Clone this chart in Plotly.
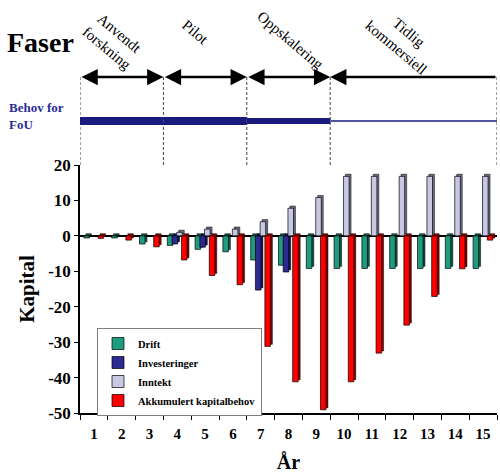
import plotly.graph_objects as go

# ---------------- data ----------------
years = list(range(1, 16))
year_labels = [str(y) for y in years]

drift = [-0.6, -0.6, -2.3, -2.7, -3.8, -4.5, -6.8, -8.3, -9.2, -9.2, -9.2, -9.2, -9.2, -9.2, -9.2]
investeringer = [0, 0, 0, -2.3, -3.2, 0, -15.3, -10.2, 0, 0, 0, 0, 0, 0, 0]
inntekt = [0, 0, 0, 1.0, 1.9, 1.9, 4.0, 7.8, 10.8, 16.8, 16.8, 16.8, 16.8, 16.8, 16.8]
akkumulert = [-0.7, -1.2, -3.1, -6.8, -11.2, -13.8, -31.2, -41.2, -49.1, -41.2, -33.1, -25.2, -17.1, -9.3, -1.2]

series_names = ["Drift", "Investeringer", "Inntekt", "Akkumulert kapitalbehov"]
series_values = [drift, investeringer, inntekt, akkumulert]

y_tickvals = [20, 10, 0, -10, -20, -30, -40, -50]
y_ticktext = ["20", "10", "0", "-10", "-20", "-30", "-40", "-50"]

phase_names = ["Anvendt<br>forskning", "Pilot", "Oppskalering", "Tidlig<br>kommersiell"]
phase_start = [1, 4, 7, 10]
phase_end = [3, 6, 9, 15]
fou_intensity = [8, 8, 6, 1.5]   # line thickness of "Behov for FoU"

# ---------------- styling ----------------
colors = ["#1F9C80", "#2A2A90", "#C8C8E2", "#FF0000"]
side_colors = ["#0E5A48", "#14144F", "#6E6E88", "#8A0000"]
offsets = [-0.36, -0.19, -0.02, 0.15]
bar_w = 0.2
depth_x = 0.07
depth_y = 0.6
SERIF = "Liberation Serif"

W, H = 500, 473
L, R, T, B = 80, 3, 165, 60
plot_h = H - T - B
plot_w = W - L - R


def py(p):
    return (H - B - p) / plot_h


def px(p):
    return (p - L) / plot_w


fig = go.Figure()

for name, vals, c, sc, off in zip(series_names, series_values, colors, side_colors, offsets):
    # 3D depth (back face)
    fig.add_trace(go.Bar(
        x=years, y=vals, base=[depth_y if v != 0 else 0 for v in vals],
        offset=off + depth_x, width=bar_w,
        marker=dict(color=sc, line=dict(color="black", width=0.5)),
        showlegend=False, hoverinfo="skip"))
    # front face
    fig.add_trace(go.Bar(
        x=years, y=vals, name=name,
        offset=off, width=bar_w,
        marker=dict(color=c, line=dict(color="black", width=0.7))))

fig.update_layout(
    width=W, height=H,
    margin=dict(l=L, r=R, t=T, b=B, autoexpand=False),
    barmode="overlay",
    plot_bgcolor="white", paper_bgcolor="white",
    font=dict(family=SERIF, color="black"),
    legend=dict(
        x=px(97), y=py(328), xanchor="left", yanchor="top",
        bgcolor="white", bordercolor="#808080", borderwidth=1,
        font=dict(family=SERIF, size=10.5, weight="bold"),
        traceorder="normal", itemwidth=30, tracegroupgap=0,
    ),
)

fig.update_xaxes(
    range=[0.5, 15.5], automargin=False,
    tickmode="array", tickvals=years, ticktext=year_labels,
    ticks="", showgrid=False, ticklabelstandoff=6,
    showline=True, linecolor="black", linewidth=1.5,
    tickfont=dict(family=SERIF, size=15, weight="bold"),
    minor=dict(tick0=0.5, dtick=1, ticks="outside", ticklen=5, tickcolor="black", showgrid=False),
    title=dict(text="År", font=dict(family=SERIF, size=20, weight="bold"), standoff=16),
)
fig.update_yaxes(
    range=[-50, 20], automargin=False,
    tickmode="array", tickvals=y_tickvals, ticktext=y_ticktext,
    ticks="outside", ticklen=4, tickcolor="black",
    showgrid=False, zeroline=True, zerolinecolor="black", zerolinewidth=1.5,
    showline=True, linecolor="black", linewidth=1.5,
    tickfont=dict(family=SERIF, size=17, weight="bold"),
    title=dict(text="Kapital", font=dict(family=SERIF, size=21, weight="bold"), standoff=8),
)

# ---------------- phase header ----------------
bounds = [phase_start[0] - 0.5] + [e + 0.5 for e in phase_end]
for b in bounds:
    fig.add_shape(type="line", xref="x", yref="paper", x0=b, x1=b, y0=py(77), y1=1,
                  line=dict(color="#444444", width=1, dash="3px,2px"))

label_pos = [(113, 41), (195, 32), (290, 40), (402, 40)]
for i, (name, s, e) in enumerate(zip(phase_names, phase_start, phase_end)):
    x0, x1 = s - 0.5, e + 0.5
    last = i == len(phase_names) - 1
    fig.add_annotation(
        x=x0 if last else x1, y=py(77), ax=x1 if last else x0, ay=0,
        xref="x", yref="paper", axref="x", ayref="pixel",
        text="", showarrow=True,
        arrowside="end" if last else "end+start",
        arrowhead=2, arrowsize=1.3, arrowwidth=2.5, arrowcolor="black",
        standoff=0, startstandoff=0)
    lx, ly = label_pos[i]
    fig.add_annotation(
        x=px(lx), y=py(ly), xref="paper", yref="paper",
        text=name, showarrow=False, textangle=40,
        xanchor="center", yanchor="middle", align="center",
        font=dict(family=SERIF, size=15, color="black"))
    fig.add_shape(type="line", xref="x", yref="paper", x0=x0, x1=x1,
                  y0=py(121), y1=py(121),
                  line=dict(color="#1B1B7D", width=fou_intensity[i]))

fig.add_annotation(x=px(5), y=py(42), xref="paper", yref="paper", text="Faser",
                   showarrow=False, xanchor="left", yanchor="middle",
                   font=dict(family=SERIF, size=28, weight="bold", color="black"))
fig.add_annotation(x=px(7), y=py(107), xref="paper", yref="paper", text="Behov for",
                   showarrow=False, xanchor="left", yanchor="middle",
                   font=dict(family=SERIF, size=13, weight="bold", color="#2B2B9A"))
fig.add_annotation(x=px(7), y=py(125), xref="paper", yref="paper", text="FoU",
                   showarrow=False, xanchor="left", yanchor="middle",
                   font=dict(family=SERIF, size=13, weight="bold", color="#2B2B9A"))

fig.write_html("out.html", config={"displayModeBar": False},
               post_script="document.body.style.margin='0';")
